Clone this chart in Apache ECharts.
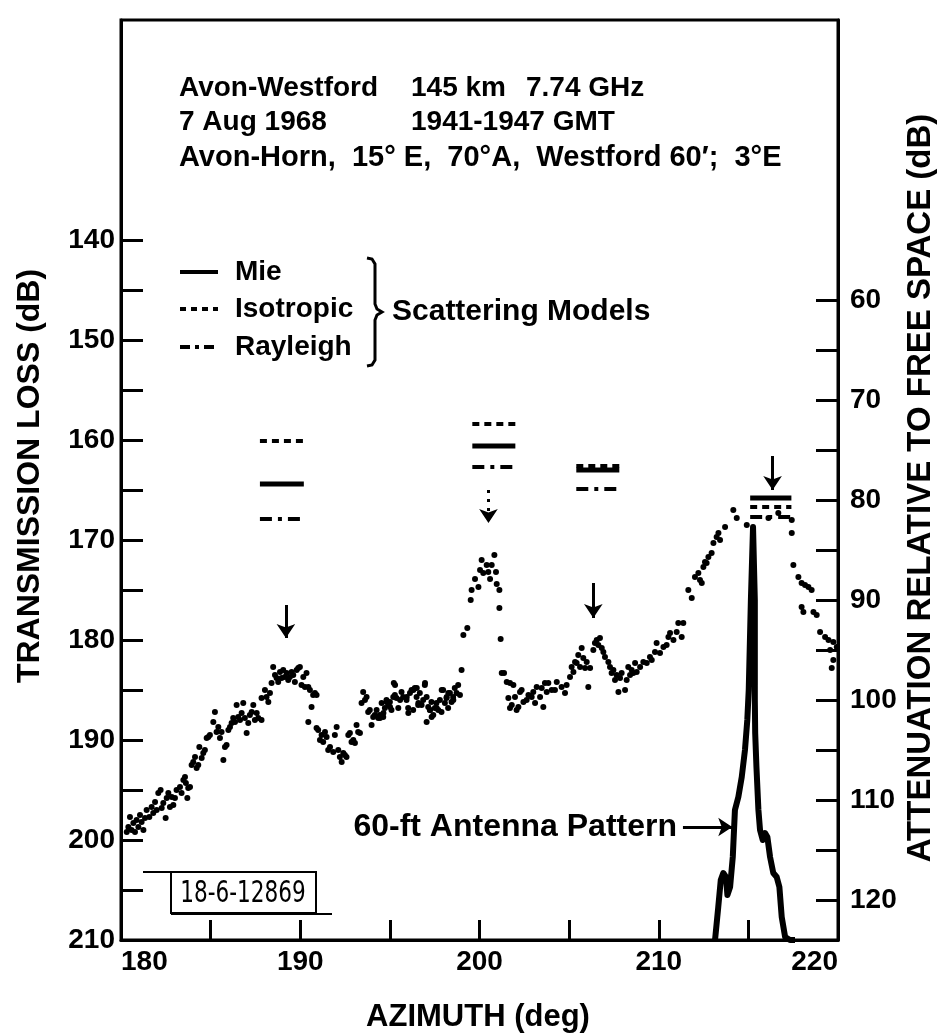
<!DOCTYPE html>
<html>
<head>
<meta charset="utf-8">
<title>Avon-Westford transmission loss vs azimuth</title>
<script src="https://cdn.jsdelivr.net/npm/echarts@6.0.0/dist/echarts.min.js"></script>
<style>
html, body { margin: 0; padding: 0; background: #fff; }
#chart { width: 947px; height: 1036px; }
</style>
</head>
<body>
<div id="chart"></div>
<script>
// axis ticks / labels
var xTicks = [180, 185, 190, 195, 200, 205, 210, 215, 220];
var xLabels = [180, 190, 200, 210, 220];
var lossTicks = [140, 145, 150, 155, 160, 165, 170, 175, 180, 185, 190, 195, 200, 205, 210];
var lossLabels = [140, 150, 160, 170, 180, 190, 200, 210];
var attTicks = [60, 65, 70, 75, 80, 85, 90, 95, 100, 105, 110, 115, 120];
var attLabels = [60, 70, 80, 90, 100, 110, 120];

// measured transmission loss, [azimuth deg, loss dB]
var measured = [
	[180.32,199.2],[180.41,198.7],[180.50,197.7],[180.59,199.0],[180.69,198.3],[180.78,199.2],[180.87,198.0],[180.97,198.7],
	[181.06,197.5],[181.15,198.2],[181.25,199.0],[181.34,197.8],[181.43,197.0],[181.58,197.7],[181.71,196.7],[181.80,197.3],
	[181.90,196.2],[181.99,197.0],[182.08,195.3],[182.21,195.0],[182.27,196.8],[182.36,196.3],[182.49,197.8],[182.55,195.8],
	[182.64,195.3],[182.73,196.7],[182.83,195.7],[182.92,196.5],[183.01,195.8],[183.10,195.0],[183.29,194.7],[183.38,195.3],
	[183.48,194.0],[183.57,193.7],[183.62,194.3],[183.70,195.8],[183.75,194.8],[183.85,194.7],[183.94,192.5],[184.03,192.2],
	[184.13,191.7],[184.22,192.8],[184.31,192.5],[184.37,190.7],[184.50,191.8],[184.59,191.3],[184.68,191.0],[184.78,189.8],
	[184.87,189.7],[184.96,189.5],[185.15,188.2],[185.24,187.2],[185.33,189.2],[185.43,188.7],[185.52,189.8],[185.61,189.2],
	[185.71,192.0],[185.80,190.7],[185.89,190.5],[185.99,189.0],[186.08,188.7],[186.17,188.3],[186.26,187.8],[186.36,188.2],
	[186.45,186.5],[186.54,187.7],[186.64,188.0],[186.73,187.3],[186.82,186.3],[186.91,187.8],[187.01,189.3],[187.10,188.3],
	[187.19,187.5],[187.29,187.2],[187.38,186.5],[187.47,188.0],[187.57,187.3],[187.66,187.8],[187.84,188.0],[187.84,185.8],
	[188.03,185.0],[188.12,185.7],[188.22,186.2],[188.31,185.3],[188.40,184.3],[188.49,182.7],[188.59,183.5],[188.68,183.8],
	[188.77,184.2],[188.87,183.2],[188.96,183.8],[189.05,183.0],[189.14,183.7],[189.24,183.3],[189.33,184.0],[189.42,183.7],
	[189.52,183.2],[189.61,183.5],[189.70,184.2],[189.80,183.0],[189.89,182.8],[189.98,182.7],[190.07,184.5],[190.17,183.7],
	[190.26,184.7],[190.35,183.3],[190.45,184.7],[190.54,185.0],[190.63,186.7],[190.72,185.5],[190.82,185.3],[190.91,185.5],
	[190.45,188.2],[190.91,188.8],[191.00,189.0],[191.10,190.0],[191.19,189.5],[191.28,190.2],[191.38,189.2],[191.47,189.7],
	[191.56,191.0],[191.66,190.7],[191.84,191.2],[191.93,189.5],[192.03,188.7],[192.12,191.0],[192.21,191.7],[192.31,192.2],
	[192.40,191.3],[192.49,191.5],[192.58,191.7],[192.68,189.5],[192.77,189.3],[192.86,190.2],[192.96,190.0],[193.05,190.3],
	[193.14,188.5],[193.23,189.2],[193.33,189.3],[193.42,186.3],[193.51,185.2],[193.61,186.0],[193.70,185.7],[193.79,187.2],
	[193.88,187.0],[193.98,188.5],[194.07,187.7],[194.16,187.5],[194.26,187.0],[194.35,187.8],[194.44,187.5],[194.54,186.3],
	[194.63,187.7],[194.72,186.8],[194.81,186.0],[194.91,186.5],[195.00,186.2],[195.09,187.0],[195.19,185.7],[195.22,184.3],
	[195.28,185.5],[195.37,185.8],
	[195.65,185.2],[195.74,185.7],[195.93,186.0],[196.02,186.8],[196.12,185.3],[196.21,185.0],[196.30,187.0],[196.39,184.8],
	[196.49,185.7],[196.58,186.5],[196.67,185.3],[196.77,186.5],[196.86,186.0],[196.95,184.5],[197.05,185.7],[197.14,186.7],
	[197.23,187.0],[197.32,186.2],[197.42,187.5],[197.51,186.8],[197.60,186.3],[197.70,187.0],[197.79,186.0],[197.88,187.2],
	[197.97,185.0],[198.07,186.3],[198.16,185.8],[198.25,186.8],[198.35,185.3],[198.44,186.2],[198.53,185.7],[198.62,184.8],
	[198.72,185.3],[198.81,184.5],[199.00,183.0],
	[194.45,187.8],[194.64,187.3],[194.82,186.2],[195.01,186.7],[195.29,184.5],[195.47,186.8],[195.57,186.0],[195.94,185.7],
	[196.03,187.3],[196.31,185.0],[196.50,184.8],[196.59,186.3],[196.96,184.3],[197.05,188.2],[197.24,187.0],[197.33,187.7],
	[197.61,186.8],[197.89,185.0],[198.17,185.7],[198.26,185.3],[198.54,186.0],[198.91,185.5],
	[199.10,179.5],[199.32,178.8],[199.51,176.0],[199.56,175.0],[199.75,173.9],[199.94,174.7],[200.03,173.0],[200.12,172.0],
	[200.21,173.3],[200.40,172.5],[200.49,173.2],[200.59,173.9],[200.68,172.5],[200.83,171.5],[200.92,173.2],[200.96,174.4],
	[201.11,175.0],[201.11,176.8],[201.18,179.9],[201.37,183.3],
	[201.24,183.3],[201.52,184.2],[201.70,184.3],[201.89,184.5],[201.61,185.8],[201.70,186.8],[201.80,186.5],[201.98,185.7],
	[202.07,187.0],[202.17,186.7],[202.26,185.2],[202.35,185.0],[202.45,186.2],[202.63,186.0],[202.73,185.5],[202.91,185.7],
	[203.00,185.2],[203.10,186.3],[203.19,184.7],[203.38,185.7],[203.47,184.8],[203.56,186.7],[203.65,184.3],[203.75,185.2],
	[203.84,184.3],[204.03,185.0],[204.21,185.0],[204.31,184.2],[204.58,184.7],[204.77,185.3],[204.86,184.5],[205.05,183.7],
	[205.14,182.7],[205.24,183.2],[205.33,182.2],[205.42,182.3],[205.51,181.5],[205.61,182.7],[205.70,180.8],[205.79,181.8],
	[205.89,182.8],[205.98,182.2],[206.07,184.7],[206.17,182.8],[206.35,181.0],[206.44,180.3],[206.54,180.0],[206.63,180.5],
	[206.72,179.8],[206.82,180.8],[206.91,181.2],[207.00,181.7],[207.19,182.2],[207.28,182.7],[207.37,183.3],[207.47,183.0],
	[207.56,184.0],[207.65,183.5],[207.75,185.2],[207.84,183.8],[207.93,183.3],[208.12,185.0],[208.21,184.0],[208.30,182.7],
	[208.40,183.5],[208.49,183.0],[208.58,183.3],[208.68,182.3],[208.77,183.2],[208.96,182.7],[209.14,182.2],[209.33,182.3],
	[209.51,181.7],[209.61,182.0],[209.79,181.2],[209.88,180.3],[210.07,181.3],[210.26,180.7],[210.44,180.5],[210.54,179.7],
	[210.63,179.3],[210.82,180.0],[211.00,179.2],[211.09,178.3],
	[211.28,179.7],[211.37,178.3],[211.65,175.0],[211.84,175.8],[212.02,173.7],[212.21,173.3],[212.30,174.0],[212.40,174.3],
	[212.49,172.7],[212.58,172.2],[212.67,172.3],[212.77,171.7],[212.95,171.3],[213.05,170.3],[213.23,169.7],[213.33,169.3],
	[213.42,170.0],[213.70,168.7],[214.16,167.0],[214.35,167.8],[214.91,168.5],[216.12,167.8],[216.67,167.3],[217.42,168.0],
	[217.42,169.3],[217.51,172.5],[217.79,173.7],[217.97,174.3],[218.16,174.5],[218.35,174.7],[218.53,175.0],[217.97,176.7],
	[218.07,177.2],[218.63,177.2],[218.81,177.5],[219.00,179.2],[219.28,179.7],[219.47,180.0],[219.74,180.2],[219.93,180.7],
	[219.56,181.0],[219.74,182.0],[219.65,182.8]
];

// 60-ft antenna pattern outline
var antennaPattern = [
	[213.14,210.0],[213.32,206.7],[213.46,204.0],[213.60,203.3],[213.75,203.7],[213.83,205.5],[213.98,204.7],[214.13,201.7],
	[214.25,197.0],[214.44,195.7],[214.63,193.7],[214.81,191.0],[214.94,188.0],[215.02,185.0],[215.14,176.0],[215.26,168.7],
	[215.36,176.0],[215.36,186.0],[215.38,189.3],[215.45,192.7],[215.56,197.0],[215.65,199.0],[215.80,200.0],[215.93,199.3],
	[216.06,199.7],[216.21,201.7],[216.39,203.3],[216.58,203.7],[216.73,204.7],[216.86,207.7],[217.05,209.7],[217.32,210.0],
	[217.60,210.0]
];

// scattering model levels, one per arrow group
var modelFrom = [187.75, 199.6, 205.4, 215.1];
var modelTo = [190.2, 202.0, 207.8, 217.4];
var mieLevel = [164.4, 160.6, 163.0, 165.8];
var isoLevel = [160.1, 158.4, 162.6, 166.7];
var rayLevel = [167.9, 162.7, 164.9, 167.7];

// arrows (azimuth, start, end)
var arrowAz = [189.2, 200.5, 206.35, 216.35];
var arrowFrom = [176.5, 165.0, 174.3, 161.6];
var arrowTo = [179.8, 168.3, 177.8, 165.0];
var patternArrow = [[211.35, 198.7], [214.1, 198.7]];

var FONT = '"Liberation Sans", Arial, sans-serif';
var boldFont = function(size) { return 'bold ' + size + 'px ' + FONT; };

var chart = echarts.init(document.getElementById('chart'));

var series = [ {
	name : 'measured',
	type : 'scatter',
	data : measured,
	symbolSize : 6,
	itemStyle : { color : '#000', opacity : 1 },
	z : 3
}, {
	name : 'antenna',
	type : 'line',
	data : antennaPattern,
	symbol : 'none',
	lineStyle : { color : '#000', width : 6, join : 'round' },
	z : 4
}, {
	name : 'arrows',
	type : 'lines',
	coordinateSystem : 'cartesian2d',
	symbol : [ 'none', 'arrow' ],
	symbolSize : [ 0, 14 ],
	lineStyle : { color : '#000', width : 3, opacity : 1, curveness : 0 },
	data : arrowAz.map(function(a, i) {
		var d = { coords : [ [ a, arrowFrom[i] ], [ a, arrowTo[i] ] ] };
		if (i == 1) d.lineStyle = { type : [ 3, 6 ] };
		return d;
	}).concat([ { coords : patternArrow } ]),
	z : 5
} ];

// model segments
var styles = [
	{ levels : isoLevel, type : [ 7, 5 ], width : 4 },
	{ levels : mieLevel, type : 'solid', width : 5 },
	{ levels : rayLevel, type : [ 12, 6, 4, 6 ], width : 4 }
];
styles.forEach(function(s) {
	for (var i = 0; i < modelFrom.length; i++) {
		series.push({
			type : 'line',
			data : [ [ modelFrom[i], s.levels[i] ], [ modelTo[i], s.levels[i] ] ],
			symbol : 'none',
			lineStyle : { color : '#000', width : s.width, type : s.type, cap : 'butt' },
			z : 4
		});
	}
});

var axisCommon = {
	axisLine : { show : true, lineStyle : { color : '#000', width : 3 } },
	splitLine : { show : false }
};

var option = {
	animation : false,
	backgroundColor : '#fff',
	grid : { left : 121, right : 109, top : 20, bottom : 96, show : true, borderColor : '#000', borderWidth : 3 },
	series : series
};

option.xAxis = Object.assign({
	type : 'value', min : 180, max : 220,
	axisTick : { show : true, inside : true, length : 20, customValues : xTicks, lineStyle : { color : '#000', width : 3 } },
	axisLabel : { customValues : xLabels, color : '#000', fontSize : 28, fontWeight : 'bold', fontFamily : FONT, margin : 8,
		alignMinLabel : 'left', alignMaxLabel : 'right' }
}, axisCommon);

option.yAxis = [ Object.assign({
	type : 'value', inverse : true, min : 118, max : 210, position : 'left',
	axisTick : { show : true, inside : true, length : 22, customValues : lossTicks, lineStyle : { color : '#000', width : 3 } },
	axisLabel : { customValues : lossLabels, color : '#000', fontSize : 28, fontWeight : 'bold', fontFamily : FONT, margin : 6 }
}, axisCommon), Object.assign({
	type : 'value', inverse : true, min : 32, max : 124, position : 'right',
	axisTick : { show : true, inside : true, length : 22, customValues : attTicks, lineStyle : { color : '#000', width : 3 } },
	axisLabel : { customValues : attLabels, color : '#000', fontSize : 28, fontWeight : 'bold', fontFamily : FONT, margin : 12 }
}, axisCommon) ];

function txt(x, y, s, size, extra) {
	var el = { type : 'text', x : x, y : y, z : 10,
		style : { text : s, font : boldFont(size), fill : '#000', verticalAlign : 'middle', align : 'left' } };
	if (extra) Object.assign(el.style, extra);
	return el;
}

option.graphic = [
	// header
	txt(179, 88, 'Avon-Westford', 28), txt(411, 88, '145 km', 28), txt(526, 88, '7.74 GHz', 28),
	txt(179, 122, '7 Aug 1968', 28), txt(411, 122, '1941-1947 GMT', 28),
	txt(179, 158, 'Avon-Horn,  15\u00b0 E,  70\u00b0A,  Westford 60\u2032;  3\u00b0E', 29),
	// legend
	{ type : 'line', shape : { x1 : 180, y1 : 272, x2 : 218, y2 : 272 }, style : { stroke : '#000', lineWidth : 4 } },
	{ type : 'line', shape : { x1 : 180, y1 : 309, x2 : 218, y2 : 309 }, style : { stroke : '#000', lineWidth : 4, lineDash : [ 6, 5 ] } },
	{ type : 'line', shape : { x1 : 180, y1 : 347, x2 : 218, y2 : 347 }, style : { stroke : '#000', lineWidth : 4, lineDash : [ 10, 5, 4, 5 ] } },
	txt(235, 272, 'Mie', 28), txt(235, 309, 'Isotropic', 28), txt(235, 347, 'Rayleigh', 28),
	{ type : 'polyline', shape : { points : [ [ 367, 258 ], [ 372, 259 ], [ 375, 264 ], [ 375, 304 ], [ 377, 309 ], [ 382, 312 ],
		[ 377, 315 ], [ 375, 320 ], [ 375, 360 ], [ 372, 365 ], [ 367, 366 ] ] },
		style : { stroke : '#000', lineWidth : 3, fill : null } },
	txt(392, 312, 'Scattering Models', 30),
	// pattern label
	txt(677, 827, '60-ft Antenna Pattern', 32, { align : 'right' }),
	// axis names
	txt(478, 1017, 'AZIMUTH (deg)', 31, { align : 'center' }),
	{ type : 'text', x : 30, y : 476, rotation : Math.PI / 2, z : 10,
		style : { text : 'TRANSMISSION LOSS (dB)', font : boldFont(32), fill : '#000', align : 'center', verticalAlign : 'middle' } },
	{ type : 'text', x : 921, y : 488, rotation : Math.PI / 2, z : 10,
		style : { text : 'ATTENUATION RELATIVE TO FREE SPACE (dB)', font : boldFont(33), fill : '#000', align : 'center', verticalAlign : 'middle' } },
	// drawing number tag
	{ type : 'line', shape : { x1 : 143, y1 : 872, x2 : 316, y2 : 872 }, style : { stroke : '#000', lineWidth : 2 } },
	{ type : 'rect', shape : { x : 171, y : 872, width : 145, height : 41 }, style : { stroke : '#000', lineWidth : 2, fill : '#fff' } },
	{ type : 'line', shape : { x1 : 171, y1 : 914, x2 : 332, y2 : 914 }, style : { stroke : '#000', lineWidth : 2 } },
	{ type : 'text', x : 243, y : 894, z : 10, scaleX : 0.8,
		style : { text : '18-6-12869', font : '500 30px "Liberation Sans Narrow", "DejaVu Sans Condensed", sans-serif', fill : '#000', align : 'center', verticalAlign : 'middle' } }
];

chart.setOption(option);
</script>
</body>
</html>
